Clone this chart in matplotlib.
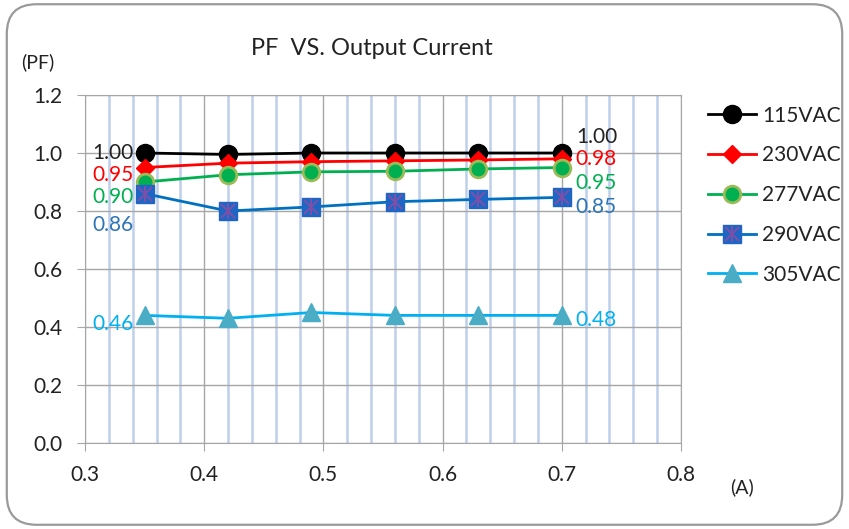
import numpy as np
import matplotlib
matplotlib.use("Agg")
import matplotlib.pyplot as plt
from matplotlib.patches import FancyBboxPatch
from matplotlib.lines import Line2D

plt.rcParams['font.family'] = ['Lato', 'DejaVu Sans']

current = [0.35, 0.42, 0.49, 0.56, 0.63, 0.70]
pf_115 = [1.00, 0.995, 1.00, 1.00, 1.00, 1.00]
pf_230 = [0.95, 0.965, 0.97, 0.973, 0.976, 0.98]
pf_277 = [0.90, 0.925, 0.935, 0.937, 0.945, 0.95]
pf_290 = [0.86, 0.80, 0.814, 0.832, 0.84, 0.847]
pf_305 = [0.44, 0.43, 0.45, 0.44, 0.44, 0.44]
names = ['115VAC', '230VAC', '277VAC', '290VAC', '305VAC']
left_labels = ['1.00', '0.95', '0.90', '0.86', '0.46']
right_labels = ['1.00', '0.98', '0.95', '0.85', '0.48']

fig = plt.figure(figsize=(8.49, 5.29), dpi=100)
ax = fig.add_axes([0.1001, 0.1626, 0.702, 0.6578])

# rounded border around the chart
fig.patches.append(FancyBboxPatch((0.008, 0.008), 0.984, 0.984,
                                  boxstyle="round,pad=0,rounding_size=0.035",
                                  transform=fig.transFigure, fill=False,
                                  ec='#9a9a9a', lw=1.6, mutation_aspect=849/529))

ax.set_xlim(0.3, 0.8)
ax.set_ylim(0.0, 1.2)
ax.set_xticks(np.arange(0.3, 0.81, 0.1))
ax.set_yticks(np.arange(0.0, 1.21, 0.2))
ax.set_xticks(np.arange(0.32, 0.8, 0.02), minor=True)
ax.set_xticklabels(['0.3', '0.4', '0.5', '0.6', '0.7', '0.8'])
ax.set_yticklabels(['0.0', '0.2', '0.4', '0.6', '0.8', '1.0', '1.2'])
ax.grid(which='minor', axis='x', color='#bfcfeb', lw=1.8)
ax.grid(which='major', color='#a6a6a6', lw=1)
ax.set_axisbelow(True)
ax.tick_params(which='minor', length=0)
ax.tick_params(which='major', direction='out', length=6, color='#a6a6a6',
               labelsize=15, labelcolor='#222222', pad=10)
for s in ax.spines.values():
    s.set_color('#a6a6a6')

styles = [
    dict(color='black', marker='o', ms=13, mfc='black', mec='black'),
    dict(color='#ff0000', marker='D', ms=9, mfc='#ff0000', mec='#ff0000'),
    dict(color='#00b050', marker='o', ms=12, mfc='#00b050', mec='#9bbb59', mew=2),
    dict(color='#0070c0', marker='s', ms=13, mfc='#1f66c4', mec='#1f66c4'),
    dict(color='#00b0f0', marker='^', ms=13, mfc='#4bacc6', mec='#4bacc6'),
]
series = [pf_115, pf_230, pf_277, pf_290, pf_305]
label_colors = ['#222222', '#ff0000', '#00b050', '#2e75b6', '#00b0f0']
left_off = [0, -7, -15, -31, -9]
right_off = [16, 0, -15, -10, -5]

handles = []
for i, (ys, st) in enumerate(zip(series, styles)):
    ln, = ax.plot(current, ys, lw=2, zorder=3 + i * 0.1, **st)
    h = ln
    if i == 3:
        ax.plot(current, ys, ls='none', marker='x', ms=10, mec='#7f4fa8', mew=1.4, zorder=4)
        ax.plot(current, ys, ls='none', marker='|', ms=12, mec='#7f4fa8', mew=1.4, zorder=4)
        x1 = Line2D([], [], ls='none', marker='x', ms=10, mec='#7f4fa8', mew=1.4)
        x2 = Line2D([], [], ls='none', marker='|', ms=12, mec='#7f4fa8', mew=1.4)
        h = (ln, x1, x2)
    handles.append(h)
    ax.annotate(left_labels[i], (current[0], ys[0]), xytext=(-11, left_off[i]),
                textcoords='offset pixels', ha='right', va='center',
                fontsize=15, color=label_colors[i], zorder=6)
    ax.annotate(right_labels[i], (current[-1], ys[-1]), xytext=(14, right_off[i]),
                textcoords='offset pixels', ha='left', va='center',
                fontsize=15, color=label_colors[i], zorder=6)

fig.legend(handles, names, loc='upper left', bbox_to_anchor=(0.812, 0.836),
           frameon=False, fontsize=15, handlelength=2.3, labelspacing=0.95,
           handletextpad=0.3, labelcolor='#222222')

fig.text(0.438, 0.909, 'PF  VS. Output Current', ha='center', va='center',
         fontsize=17, color='#222222')
fig.text(0.045, 0.882, '(PF)', ha='center', va='center', fontsize=14, color='#222222')
fig.text(0.874, 0.079, '(A)', ha='center', va='center', fontsize=14, color='#222222')

fig.savefig('out.png', dpi=100)
